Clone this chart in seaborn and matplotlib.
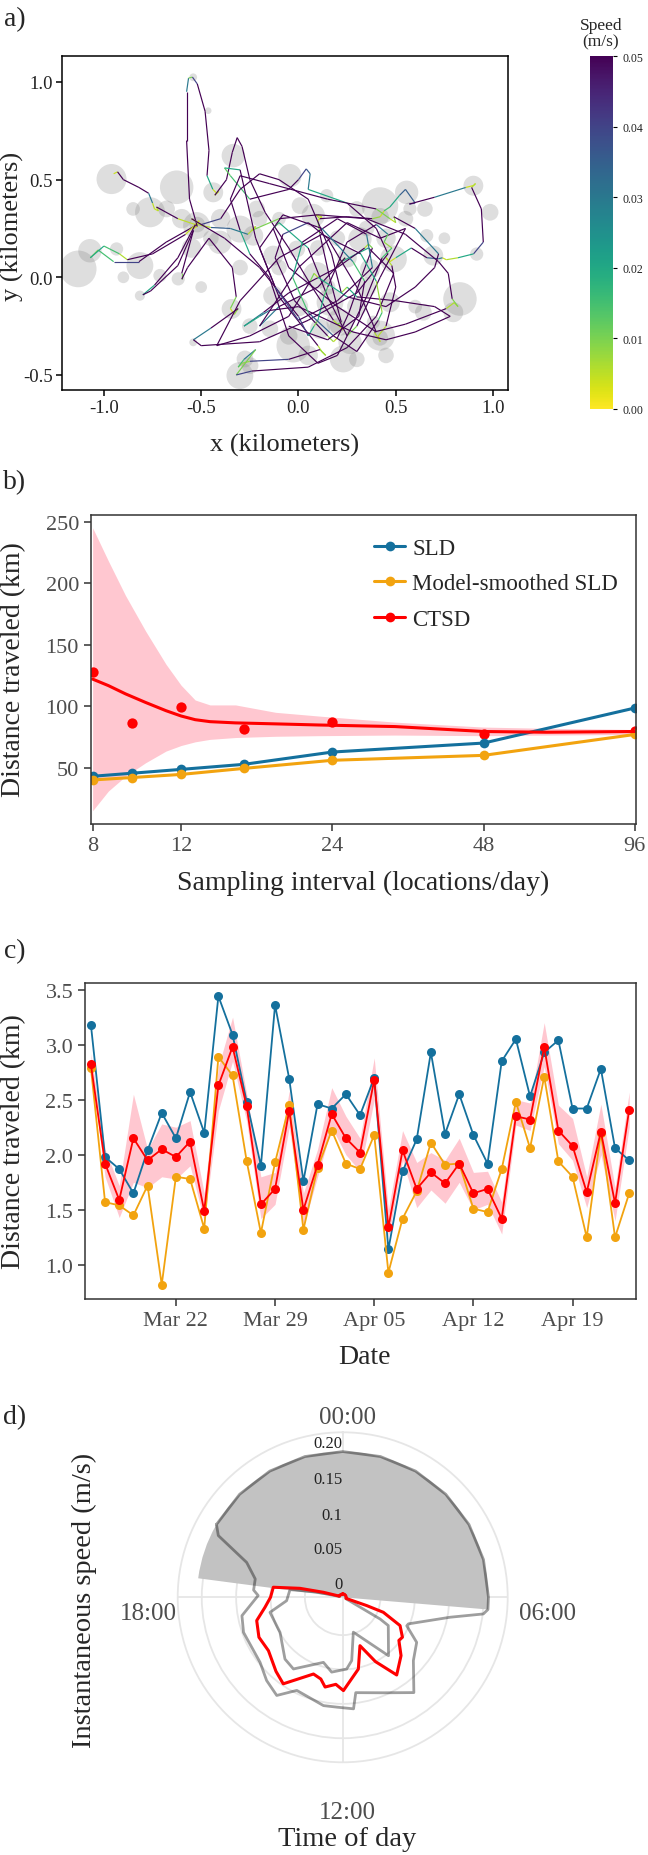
import numpy as np
import pandas as pd
import matplotlib
matplotlib.use("Agg")
import matplotlib.pyplot as plt
import matplotlib.dates as mdates
import seaborn as sns
from matplotlib.collections import LineCollection
from matplotlib.lines import Line2D
from matplotlib.patches import Circle
from matplotlib.ticker import NullLocator

# ---------------- data ----------------
# a) movement track (km) with instantaneous speed (m/s)
track_x = [-0.95, -0.93, -0.90, -0.82, -0.77, -0.75, -0.74, -0.72, -0.73, -0.62, -0.53, -0.51, -0.54, -0.52,
           -0.56, -0.575, -0.575, -0.565, -0.545, -0.52, -0.48, -0.46, -0.47, -0.44, -0.42, -0.41, -0.43,
           -0.37, -0.34, -0.315, -0.29, -0.25, -0.17, -0.05, 0.07, 0.18, 0.21, 0.23, 0.20, 0.22, 0.16, 0.11,
           0.10, 0.12, 0.09, 0.11, 0.25, 0.38, 0.42, 0.44, 0.47, 0.52, 0.55, 0.60, 0.57, 0.70, 0.86, 0.90,
           0.91, 0.89, 0.94, 0.95, 0.90, 0.82, 0.76, 0.74, 0.72, 0.66, 0.58, 0.50, 0.47, 0.45, 0.48, 0.50,
           0.45, 0.41, 0.42, 0.39, 0.55, 0.76, 0.80, 0.82, 0.79, 0.77, 0.72, 0.55, 0.35, 0.10, -0.10, -0.24,
           -0.22, -0.26, -0.35, -0.45, -0.52, -0.68, -0.82, -0.95, -1.03, -1.07, -1.00, -0.92, -0.88, -0.75,
           -0.58, -0.53, -0.62, -0.74, -0.80, -0.76, -0.62, -0.54, -0.60, -0.60, -0.57, -0.46, -0.34, -0.32,
           -0.35, -0.33, -0.31, -0.45, -0.54, -0.50, -0.20, 0.05, 0.30, 0.46, 0.40, 0.25, 0.05, 0.06, 0.04,
           0.00, -0.05, -0.25, -0.35, -0.38, -0.30, -0.22, -0.10, 0.10, 0.12, 0.14, 0.11, -0.05, -0.25, -0.29,
           -0.31, -0.28, -0.22, -0.32, -0.24, 0.05, 0.25, 0.40, 0.49, 0.36, 0.22, 0.20, 0.24, 0.10, -0.10,
           -0.20, 0.00, 0.25, 0.42, 0.55, 0.42, 0.30, 0.25, 0.15, 0.05, -0.10, -0.13, -0.05, 0.20, 0.40,
           0.30, 0.15, 0.05, -0.08, -0.12, -0.02, 0.15, 0.18, 0.20, 0.26, 0.33, 0.38, 0.36, 0.34, 0.20,
           -0.05, -0.18, -0.28, -0.20, -0.15, 0.00, 0.28, 0.45, 0.60, 0.78, 0.70, 0.50, 0.30, 0.25, 0.22,
           0.17, 0.05, -0.10, -0.20, -0.30, -0.40, -0.50, -0.55, -0.38, -0.20, 0.00, 0.05, 0.08, 0.10, 0.13,
           0.15, 0.25, 0.40, 0.46, 0.44, 0.48, 0.43, 0.35, 0.20, 0.10, -0.05, -0.15, -0.25, -0.30, -0.35,
           -0.30, -0.15, 0.15, 0.40, 0.47, 0.50, 0.49, 0.60, 0.72, 0.70, 0.60, 0.45, 0.25, 0.10, 0.08, 0.06,
           -0.05, -0.25, -0.42, -0.30, -0.10, 0.12, 0.32, 0.40, 0.43, 0.41, 0.30, 0.18, 0.05, -0.03, 0.02,
           0.20, 0.35, 0.38, 0.20, 0.00, -0.12, -0.20, -0.08, 0.12, 0.28, 0.34, 0.31, 0.15, -0.05]
track_y = [0.53, 0.54, 0.50, 0.46, 0.43, 0.38, 0.35, 0.34, 0.36, 0.30, 0.27, 0.29, 0.25, 0.26,
           0.40, 0.70, 0.95, 1.02, 1.025, 0.99, 0.85, 0.65, 0.52, 0.45, 0.43, 0.44, 0.42,
           0.50, 0.64, 0.715, 0.67, 0.50, 0.33, 0.15, -0.05, -0.22, -0.25, -0.27, -0.24, -0.23, 0.00, 0.22,
           0.29, 0.31, 0.32, 0.30, 0.31, 0.30, 0.31, 0.34, 0.36, 0.42, 0.45, 0.38, 0.375, 0.41, 0.46, 0.47,
           0.48, 0.46, 0.35, 0.18, 0.12, 0.10, 0.09, 0.10, 0.095, 0.10, 0.15, 0.10, 0.08, 0.10, 0.06, -0.05,
           -0.25, -0.30, -0.33, -0.28, -0.24, -0.16, -0.13, -0.15, -0.11, 0.02, 0.08, 0.22, 0.30, 0.32, 0.30, 0.24,
           0.26, 0.22, 0.25, 0.255, 0.27, 0.18, 0.08, 0.08, 0.14, 0.10, 0.16, 0.12, 0.09, 0.12,
           0.22, 0.27, 0.10, -0.04, -0.09, -0.07, 0.06, 0.24, 0.02, -0.01, 0.05, 0.20, 0.05, -0.10,
           -0.16, -0.19, -0.16, -0.26, -0.32, -0.35, -0.33, -0.22, -0.08, 0.12, 0.25, 0.38, 0.45, 0.53, 0.555,
           0.50, 0.45, 0.40, 0.52, 0.56, 0.55, 0.20, -0.10, -0.35, -0.38, -0.40, -0.37, -0.42, -0.43, -0.44,
           -0.46, -0.42, -0.37, -0.50, -0.48, -0.46, -0.36, -0.20, 0.02, 0.15, 0.08, 0.06, 0.10, -0.05, -0.15,
           -0.25, 0.05, 0.28, 0.20, 0.25, 0.00, -0.25, -0.30, -0.10, 0.15, 0.28, 0.25, 0.05, -0.15, -0.28,
           -0.05, 0.20, 0.28, 0.22, 0.10, -0.12, -0.30, -0.33, -0.31, -0.18, 0.02, 0.15, 0.17, 0.15, 0.05,
           -0.08, -0.18, -0.25, -0.20, -0.17, -0.15, -0.28, -0.32, -0.28, -0.20, -0.15, -0.12, -0.10, -0.05, -0.08,
           0.12, 0.40, 0.50, 0.53, 0.45, 0.30, 0.27, 0.30, 0.20, 0.05, -0.20, -0.30, -0.25, -0.22, -0.10,
           -0.05, 0.18, 0.27, 0.22, 0.18, 0.15, 0.10, -0.10, -0.40, -0.44, -0.30, 0.00, 0.12, 0.24, 0.40,
           0.52, 0.48, 0.40, 0.35, 0.30, 0.28, 0.31, 0.25, 0.12, 0.05, -0.05, -0.15, -0.10, 0.00, 0.02, -0.02,
           -0.20, -0.30, -0.35, -0.12, 0.10, 0.22, 0.12, -0.02, -0.18, -0.22, -0.38, -0.30, -0.18, 0.00, 0.18,
           0.30, 0.22, 0.05, -0.12, -0.22, -0.05, 0.15, 0.32, 0.25, 0.08, -0.02, -0.20, -0.32, -0.25]
track_speed = [0.006, 0.004, 0.05, 0.05, 0.05, 0.03, 0.005, 0.004, 0.006, 0.05, 0.005, 0.003, 0.003, 0.004,
               0.05, 0.05, 0.05, 0.03, 0.01, 0.04, 0.05, 0.05, 0.05, 0.02, 0.004, 0.003, 0.006,
               0.05, 0.05, 0.05, 0.05, 0.05, 0.05, 0.05, 0.05, 0.05, 0.006, 0.004, 0.005, 0.01, 0.05, 0.05,
               0.01, 0.004, 0.005, 0.006, 0.05, 0.05, 0.008, 0.004, 0.015, 0.02, 0.035, 0.035, 0.04, 0.05, 0.03, 0.004,
               0.004, 0.006, 0.05, 0.05, 0.04, 0.02, 0.006, 0.004, 0.03, 0.035, 0.05, 0.02, 0.004, 0.005, 0.006, 0.05,
               0.05, 0.006, 0.004, 0.006, 0.05, 0.05, 0.006, 0.004, 0.01, 0.05, 0.05, 0.05, 0.05, 0.05, 0.05, 0.01,
               0.004, 0.006, 0.03, 0.035, 0.006, 0.05, 0.05, 0.04, 0.015, 0.01, 0.02, 0.015, 0.006, 0.05,
               0.05, 0.004, 0.05, 0.05, 0.02, 0.05, 0.05, 0.05, 0.05, 0.01, 0.05, 0.05, 0.05, 0.05,
               0.01, 0.004, 0.008, 0.05, 0.03, 0.05, 0.05, 0.05, 0.05, 0.05, 0.05, 0.05, 0.02, 0.03, 0.035,
               0.04, 0.05, 0.05, 0.015, 0.012, 0.02, 0.05, 0.05, 0.05, 0.006, 0.004, 0.008, 0.05, 0.04, 0.008,
               0.005, 0.015, 0.03, 0.01, 0.04, 0.05, 0.05, 0.05, 0.05, 0.05, 0.02, 0.006, 0.01, 0.05, 0.05,
               0.03, 0.05, 0.05, 0.05, 0.05, 0.05, 0.05, 0.01, 0.05, 0.05, 0.02, 0.015, 0.05, 0.05, 0.05,
               0.05, 0.05, 0.05, 0.04, 0.05, 0.05, 0.05, 0.008, 0.005, 0.05, 0.05, 0.05, 0.01, 0.006, 0.05,
               0.05, 0.05, 0.03, 0.02, 0.03, 0.05, 0.05, 0.05, 0.05, 0.05, 0.05, 0.05, 0.05, 0.02, 0.008,
               0.05, 0.05, 0.05, 0.05, 0.05, 0.05, 0.04, 0.006, 0.05, 0.05, 0.05, 0.04, 0.02, 0.01, 0.02,
               0.015, 0.05, 0.05, 0.03, 0.012, 0.008, 0.015, 0.05, 0.05, 0.05, 0.05, 0.05, 0.05, 0.02, 0.05,
               0.05, 0.05, 0.05, 0.05, 0.01, 0.005, 0.008, 0.05, 0.03, 0.05, 0.05, 0.05, 0.05, 0.02, 0.006, 0.01,
               0.05, 0.05, 0.05, 0.05, 0.05, 0.05, 0.05, 0.02, 0.008, 0.015, 0.05, 0.05, 0.035, 0.015, 0.02,
               0.05, 0.05, 0.03, 0.05, 0.05, 0.04, 0.05, 0.05, 0.05, 0.03, 0.015, 0.05, 0.05, 0.05]

# a) grey location-error discs (centre x, centre y, radius in km)
disc_x = [-1.132, -0.961, -1.072, -0.626, -0.763, -0.815, -0.618, -0.524, -0.335, -0.438, -0.301, -0.232,
          -0.044, 0.076, 0.419, 0.556, 0.899, 0.985, 0.693, 0.488, 0.830, 0.796, 0.419, 0.213, 0.230, -0.027,
          -0.301, -0.275, -0.344, -0.541, -0.815, 0.093, 0.162, -0.130, -0.130, 0.659, 0.916, 0.470, 0.642,
          -0.541, -0.464, -0.404, 0.316, 0.265, 0.111, -0.147, -0.249, 0.008, 0.145, 0.368, 0.385, -0.678,
          -0.935, -0.712, -0.215, -0.009, 0.573,
          0.25, 0.35, 0.15, 0.00, -0.10, 0.30, 0.45, 0.55, -0.40, -0.45, -0.60, -0.55, -0.20, -0.10, 0.30,
          0.20, 0.35, 0.05, 0.30, 0.60, -0.25, -0.05, 0.45, -0.85, -0.90, 0.65, 0.75, -0.30, 0.10, -0.50,
          -0.52, 0.42, 0.20, 0.42]
disc_y = [0.043, 0.503, 0.136, 0.461, 0.333, 0.060, -0.008, 0.265, 0.623, 0.435, 0.247, 0.213,
          0.520, 0.316, 0.367, 0.435, 0.469, 0.333, 0.111, 0.094, -0.111, -0.179, -0.299, -0.230, -0.418, -0.350,
          -0.503, -0.418, -0.162, -0.333, -0.094, 0.009, -0.128, -0.094, 0.111, 0.213, 0.119, -0.128, -0.179,
          1.024, 0.853, 0.179, 0.196, -0.333, -0.264, -0.264, -0.452, 0.367, 0.418, 0.043, -0.230, 0.350,
          0.145, 0.009, 0.350, 0.145, 0.350,
          0.10, -0.05, -0.05, -0.15, 0.05, -0.15, 0.20, 0.30, 0.30, 0.20, 0.30, 0.15, 0.30, 0.30, 0.35,
          0.20, 0.25, -0.40, -0.42, -0.15, -0.25, -0.30, -0.40, 0.35, 0.00, 0.35, 0.20, 0.05, 0.15, -0.05,
          0.27, 0.31, -0.25, -0.31]
disc_r = [0.094, 0.077, 0.060, 0.086, 0.077, 0.069, 0.034, 0.069, 0.060, 0.051, 0.069, 0.051,
          0.060, 0.060, 0.094, 0.060, 0.051, 0.043, 0.051, 0.069, 0.086, 0.051, 0.077, 0.069, 0.069, 0.086,
          0.069, 0.043, 0.051, 0.020, 0.026, 0.069, 0.069, 0.051, 0.051, 0.034, 0.034, 0.051, 0.043,
          0.020, 0.017, 0.060, 0.060, 0.060, 0.051, 0.043, 0.043, 0.043, 0.034, 0.051, 0.034, 0.043,
          0.034, 0.034, 0.043, 0.043, 0.034,
          0.050, 0.050, 0.040, 0.050, 0.040, 0.050, 0.050, 0.040, 0.050, 0.040, 0.050, 0.050, 0.040, 0.035,
          0.040, 0.040, 0.040, 0.050, 0.040, 0.035, 0.040, 0.045, 0.040, 0.035, 0.030, 0.040, 0.030, 0.040,
          0.040, 0.030, 0.040, 0.045, 0.040, 0.040]

# b) distance vs sampling interval
interval = [8, 9.6, 12, 16, 24, 48, 96]
sld_km = [43, 45.5, 48.6, 52.7, 62.7, 70, 98.5]
smooth_sld_km = [40, 42, 44.5, 49.4, 56, 60, 77]
ctsd_km = [128, 86.2, 99.6, 81.5, 87, 77, 79.5]
fit_x = [8, 8.6, 9.3, 10.2, 11.2, 12, 12.8, 13.7, 15.4, 18.5, 22.5, 32, 48, 64, 96]
ctsd_fit = [122, 116.7, 110, 103, 96.3, 92, 89, 87.4, 86.4, 85.6, 84.7, 83.4, 79.4, 78.8, 79.4]
ctsd_hi = [245, 218, 190, 161, 134, 117, 105, 101, 101, 95, 92, 87, 83, 82, 81]
ctsd_lo = [15, 31, 43, 54, 63.5, 68, 71, 73, 74.5, 75.5, 76, 76.5, 76, 76.5, 77]

# c) daily distance
dates = pd.date_range("2021-03-16", periods=39, freq="D")
daily_sld = [3.18, 1.98, 1.87, 1.65, 2.04, 2.38, 2.15, 2.57, 2.20, 3.44, 3.09, 2.48, 1.90, 3.36, 2.69, 1.76,
             2.46, 2.42, 2.55, 2.36, 2.70, 1.14, 1.85, 2.14, 2.93, 2.19, 2.55, 2.18, 1.92, 2.85, 3.05, 2.53,
             2.93, 3.04, 2.42, 2.42, 2.78, 2.06, 1.95]
daily_smooth = [2.79, 1.57, 1.54, 1.45, 1.72, 0.82, 1.80, 1.78, 1.33, 2.89, 2.72, 1.94, 1.29, 1.93, 2.45, 1.32,
                1.88, 2.22, 1.92, 1.87, 2.18, 0.93, 1.42, 1.67, 2.11, 1.91, 1.92, 1.51, 1.48, 1.87, 2.48, 2.06,
                2.71, 1.94, 1.80, 1.25, 2.20, 1.25, 1.65]
daily_ctsd = [2.82, 1.92, 1.59, 2.15, 1.95, 2.05, 1.98, 2.12, 1.49, 2.63, 2.98, 2.44, 1.55, 1.69, 2.40, 1.50,
              1.91, 2.37, 2.15, 2.02, 2.68, 1.34, 2.04, 1.69, 1.84, 1.74, 1.92, 1.65, 1.69, 1.42, 2.35, 2.32,
              2.98, 2.22, 2.08, 1.66, 2.21, 1.56, 2.41]
daily_ctsd_lo = [2.78, 1.80, 1.43, 1.75, 1.70, 1.80, 1.78, 1.90, 1.40, 2.40, 2.85, 2.30, 1.42, 1.55, 2.25, 1.35,
                 1.80, 2.25, 2.00, 1.85, 2.50, 1.25, 1.95, 1.52, 1.68, 1.56, 1.75, 1.50, 1.55, 1.28, 2.27, 2.22,
                 2.80, 2.10, 1.95, 1.52, 2.00, 1.40, 2.25]
daily_ctsd_hi = [2.92, 2.05, 1.72, 2.55, 2.05, 2.28, 2.25, 2.31, 1.65, 2.80, 3.25, 2.55, 1.80, 1.84, 2.58, 1.65,
                 2.05, 2.61, 2.35, 2.15, 2.88, 1.50, 2.22, 1.93, 2.02, 1.95, 2.15, 1.84, 1.85, 1.57, 2.50, 2.47,
                 3.20, 2.45, 2.33, 1.80, 2.46, 1.70, 2.57]

# d) instantaneous speed by time of day (hours, m/s)
mean_hours = [0, 2, 4, 6, 7.2, 7.27, 7.35, 7.75, 8.25, 8.5, 9.0, 9.68, 10.2, 10.69, 11.18, 11.97, 12.3,
              12.74, 13.0, 13.39, 14.3, 14.8, 15.62, 16.3, 16.99, 17.51, 18.0, 18.55, 18.79, 18.97, 19.3, 21, 24]
mean_speed = [0, 0, 0, 0, 0, 0.032, 0.058, 0.088, 0.0995, 0.098, 0.115, 0.1326, 0.100, 0.0697, 0.1018,
              0.1307, 0.122, 0.128, 0.118, 0.1144, 0.1477, 0.140, 0.128, 0.130, 0.1246, 0.109, 0.100, 0.097,
              0.0585, 0.024, 0, 0, 0]
upper_hours = [20, 21, 22, 23, 0, 1, 2, 3, 4, 5, 6, 6.32, 6.45, 6.7, 7.47, 7.6, 8.09, 8.79, 9.55, 10.46,
               11.48, 11.63, 12.2, 12.67, 13.75, 14.26, 14.83, 15.45, 16.7, 17.31, 18.08, 18.31, 18.79, 19.33,
               19.76, 20]
upper_speed = [0.207, 0.207, 0.207, 0.207, 0.207, 0.207, 0.207, 0.207, 0.207, 0.207, 0.207, 0.207, 0.201,
               0.154, 0.098, 0.097, 0.121, 0.133, 0.168, 0.146, 0.135, 0.158, 0.155, 0.155, 0.146, 0.167, 0.159,
               0.148, 0.148, 0.144, 0.118, 0.125, 0.125, 0.1436, 0.197, 0.207]
lower_hours = [18.97, 20, 22, 0, 2, 4, 6, 7.6, 8.01, 8.12, 9.46, 10.87, 11.46, 11.79, 12.56, 13.1, 14.3,
               14.87, 16.05, 17.22, 17.77, 18.55, 18.75, 18.97]
lower_speed = [0, 0, 0, 0, 0, 0, 0, 0, 0.058, 0.073, 0.103, 0.048, 0.088, 0.0995, 0.105, 0.0937, 0.1215,
               0.118, 0.0995, 0.103, 0.0767, 0.0725, 0.035, 0]
night_start, night_end, night_top = 18.5, 6.32, 0.207

# ---------------- style ----------------
sns.set_style("ticks")
plt.rcParams["font.family"] = ["Liberation Serif", "DejaVu Serif"]
plt.rcParams["axes.unicode_minus"] = False

BLUE, ORANGE, RED = "#14709d", "#f2a30f", "#ff0000"
PINK = "#ff9aaa"
GREYTXT = "#4d4d4d"
W, H = 648, 1856


def px_rect(l, t, r, b):
    return [l / W, 1 - b / H, (r - l) / W, (b - t) / H]


def ftext(x, y, s, **kw):
    fig.text(x / W, 1 - y / H, s, ha=kw.pop("ha", "center"), va=kw.pop("va", "center"), **kw)


def style_box(ax, spine_col="#333333"):
    for sp in ax.spines.values():
        sp.set_visible(True)
        sp.set_color(spine_col)
        sp.set_linewidth(1.1)
    ax.tick_params(length=5, width=1.1, color="#333333", labelcolor=GREYTXT, labelsize=16)


fig = plt.figure(figsize=(W / 100, H / 100), dpi=100)

# ---------------- a) track ----------------
ax_a = fig.add_axes(px_rect(61.7, 57, 508, 391))
for cx, cy, cr in zip(disc_x, disc_y, disc_r):
    ax_a.add_patch(Circle((cx, cy), cr, facecolor="#808080", alpha=0.26, lw=0))
pts = np.column_stack([track_x, track_y])
segs = np.stack([pts[:-1], pts[1:]], axis=1)
lc = LineCollection(segs, cmap="viridis_r", norm=plt.Normalize(0, 0.05), lw=0.85)
lc.set_array(np.array(track_speed[1:]))
ax_a.add_collection(lc)
ax_a.set_xlim(-1.217, 1.077)
ax_a.set_ylim(-0.577, 1.133)
ax_a.set_xticks([-1.0, -0.5, 0.0, 0.5, 1.0])
ax_a.set_yticks([-0.5, 0.0, 0.5, 1.0])
ax_a.set_xticklabels(["-1.0", "-0.5", "0.0", "0.5", "1.0"])
ax_a.set_yticklabels(["-0.5", "0.0", "0.5", "1.0"])
style_box(ax_a, "black")
ax_a.tick_params(labelsize=13.5, labelcolor="#222222", length=4, color="black", pad=2.5)
ftext(285, 445, "x (kilometers)", fontsize=19)
ftext(12, 226, "y (kilometers)", fontsize=19, rotation=90)

cax = fig.add_axes(px_rect(590, 57, 613, 410))
cb = fig.colorbar(lc, cax=cax)
cb.set_ticks([0, 0.01, 0.02, 0.03, 0.04, 0.05])
cb.set_ticklabels(["0.00", "0.01", "0.02", "0.03", "0.04", "0.05"])
cb.outline.set_visible(False)
cax.tick_params(labelsize=8.5, length=3, width=0.8, color="black", labelcolor="#222222")
ftext(601, 34, "Speed\n(m/s)", fontsize=12.5, linespacing=1.0)

# ---------------- b) sampling interval ----------------
ax_b = fig.add_axes(px_rect(90.7, 516, 636, 825))
ax_b.fill_between(fit_x, ctsd_lo, ctsd_hi, color=PINK, alpha=0.55, lw=0)
sns.lineplot(x=interval, y=sld_km, color=BLUE, lw=2.2, marker="o", markersize=7,
             markeredgewidth=0, ax=ax_b)
sns.lineplot(x=interval, y=smooth_sld_km, color=ORANGE, lw=2.2, marker="o", markersize=7,
             markeredgewidth=0, ax=ax_b)
sns.lineplot(x=fit_x, y=ctsd_fit, color=RED, lw=2.2, ax=ax_b)
sns.scatterplot(x=interval, y=ctsd_km, color=RED, s=55, linewidth=0, ax=ax_b)
ax_b.set_xscale("log", base=2)
ax_b.set_xticks([8, 12, 24, 48, 96])
ax_b.set_xticklabels(["8", "12", "24", "48", "96"])
ax_b.xaxis.set_minor_locator(NullLocator())
ax_b.set_xlim(7.93, 96.5)
ax_b.set_ylim(4.2, 255.4)
ax_b.set_yticks([50, 100, 150, 200, 250])
style_box(ax_b)
ax_b.set_xlabel("")
ax_b.set_ylabel("")
handles = [Line2D([], [], color=c, lw=2.2, marker="o", markersize=7, markeredgewidth=0)
           for c in (BLUE, ORANGE, RED)]
ax_b.legend(handles, ["SLD", "Model-smoothed SLD", "CTSD"], loc="upper left",
            bbox_to_anchor=(0.52, 0.925), frameon=False, fontsize=16.5, handlelength=1.35,
            handletextpad=0.3, labelspacing=0.62, borderpad=0, borderaxespad=0)
ftext(14, 670, "Distance traveled (km)", fontsize=20, rotation=90)
ftext(363, 883, "Sampling interval (locations/day)", fontsize=20)

# ---------------- c) daily distance ----------------
ax_c = fig.add_axes(px_rect(85, 984, 635.7, 1300))
sns.lineplot(x=dates, y=daily_sld, color=BLUE, lw=1.3, marker="o", markersize=6.5,
             markeredgewidth=0, ax=ax_c)
sns.lineplot(x=dates, y=daily_smooth, color=ORANGE, lw=1.3, marker="o", markersize=6.5,
             markeredgewidth=0, ax=ax_c)
ax_c.fill_between(dates, daily_ctsd_lo, daily_ctsd_hi, color=PINK, alpha=0.55, lw=0)
sns.lineplot(x=dates, y=daily_ctsd, color=RED, lw=1.3, marker="o", markersize=6.5,
             markeredgewidth=0, ax=ax_c)
ax_c.set_xlim(dates[0] - pd.Timedelta(hours=10), dates[-1] + pd.Timedelta(hours=11))
ax_c.set_ylim(0.69, 3.56)
ax_c.set_yticks([1.0, 1.5, 2.0, 2.5, 3.0, 3.5])
ax_c.set_yticklabels(["1.0", "1.5", "2.0", "2.5", "3.0", "3.5"])
ax_c.xaxis.set_major_locator(mdates.WeekdayLocator(byweekday=mdates.MO))
ax_c.xaxis.set_major_formatter(mdates.DateFormatter("%b %d"))
style_box(ax_c)
ax_c.set_xlabel("")
ax_c.set_ylabel("")
ftext(14, 1142, "Distance traveled (km)", fontsize=20, rotation=90)
ftext(364, 1357, "Date", fontsize=20)

# ---------------- d) speed by time of day ----------------
ax_d = fig.add_axes(px_rect(177.7, 1433.3, 507.7, 1763.3), projection="polar")
ax_d.set_theta_zero_location("N")
ax_d.set_theta_direction(-1)
to_rad = lambda h: np.deg2rad(np.asarray(h, dtype=float) * 15)
span = (night_end + 24 - night_start)
ax_d.bar(to_rad(night_start + span / 2), night_top + 0.005, width=to_rad(span), bottom=-0.005,
         color="#c2c2c2", lw=0, zorder=1)
ax_d.plot(to_rad(upper_hours), upper_speed, color="black", alpha=0.38, lw=2, zorder=3)
ax_d.plot(to_rad(lower_hours), lower_speed, color="black", alpha=0.38, lw=2, zorder=3)
ax_d.plot(to_rad(mean_hours), mean_speed, color=RED, lw=2.2, zorder=4)
ax_d.set_ylim(-0.005, 0.235)
ax_d.set_yticks([0.05, 0.10, 0.15, 0.20])
ax_d.set_yticklabels([])
ax_d.set_xticks(to_rad([0, 6, 12, 18]))
ax_d.set_xticklabels([])
ax_d.grid(color="#e6e6e6", lw=1.3)
ax_d.spines["polar"].set_color("#e6e6e6")
ax_d.spines["polar"].set_linewidth(1.3)
ax_d.set_facecolor("none")
for v, lab in zip([0.014, 0.065, 0.114, 0.167, 0.219], ["0", "0.05", "0.1", "0.15", "0.20"]):
    ax_d.text(0, v, lab, ha="right", va="center", fontsize=12, color="#222222", zorder=5)
ftext(347, 1418, "00:00", fontsize=18, color=GREYTXT)
ftext(548, 1614, "06:00", fontsize=18, color=GREYTXT)
ftext(148, 1614, "18:00", fontsize=18, color=GREYTXT)
ftext(347, 1813, "12:00", fontsize=18, color=GREYTXT)
ftext(347, 1840, "Time of day", fontsize=20.5)
ftext(84, 1600, "Instantaneous speed (m/s)", fontsize=20.5, rotation=90)

for lab, y in (("a)", 20), ("b)", 483), ("c)", 952), ("d)", 1418)):
    ftext(15, y, lab, fontsize=20)

fig.savefig("out.png", dpi=100, facecolor="white")
